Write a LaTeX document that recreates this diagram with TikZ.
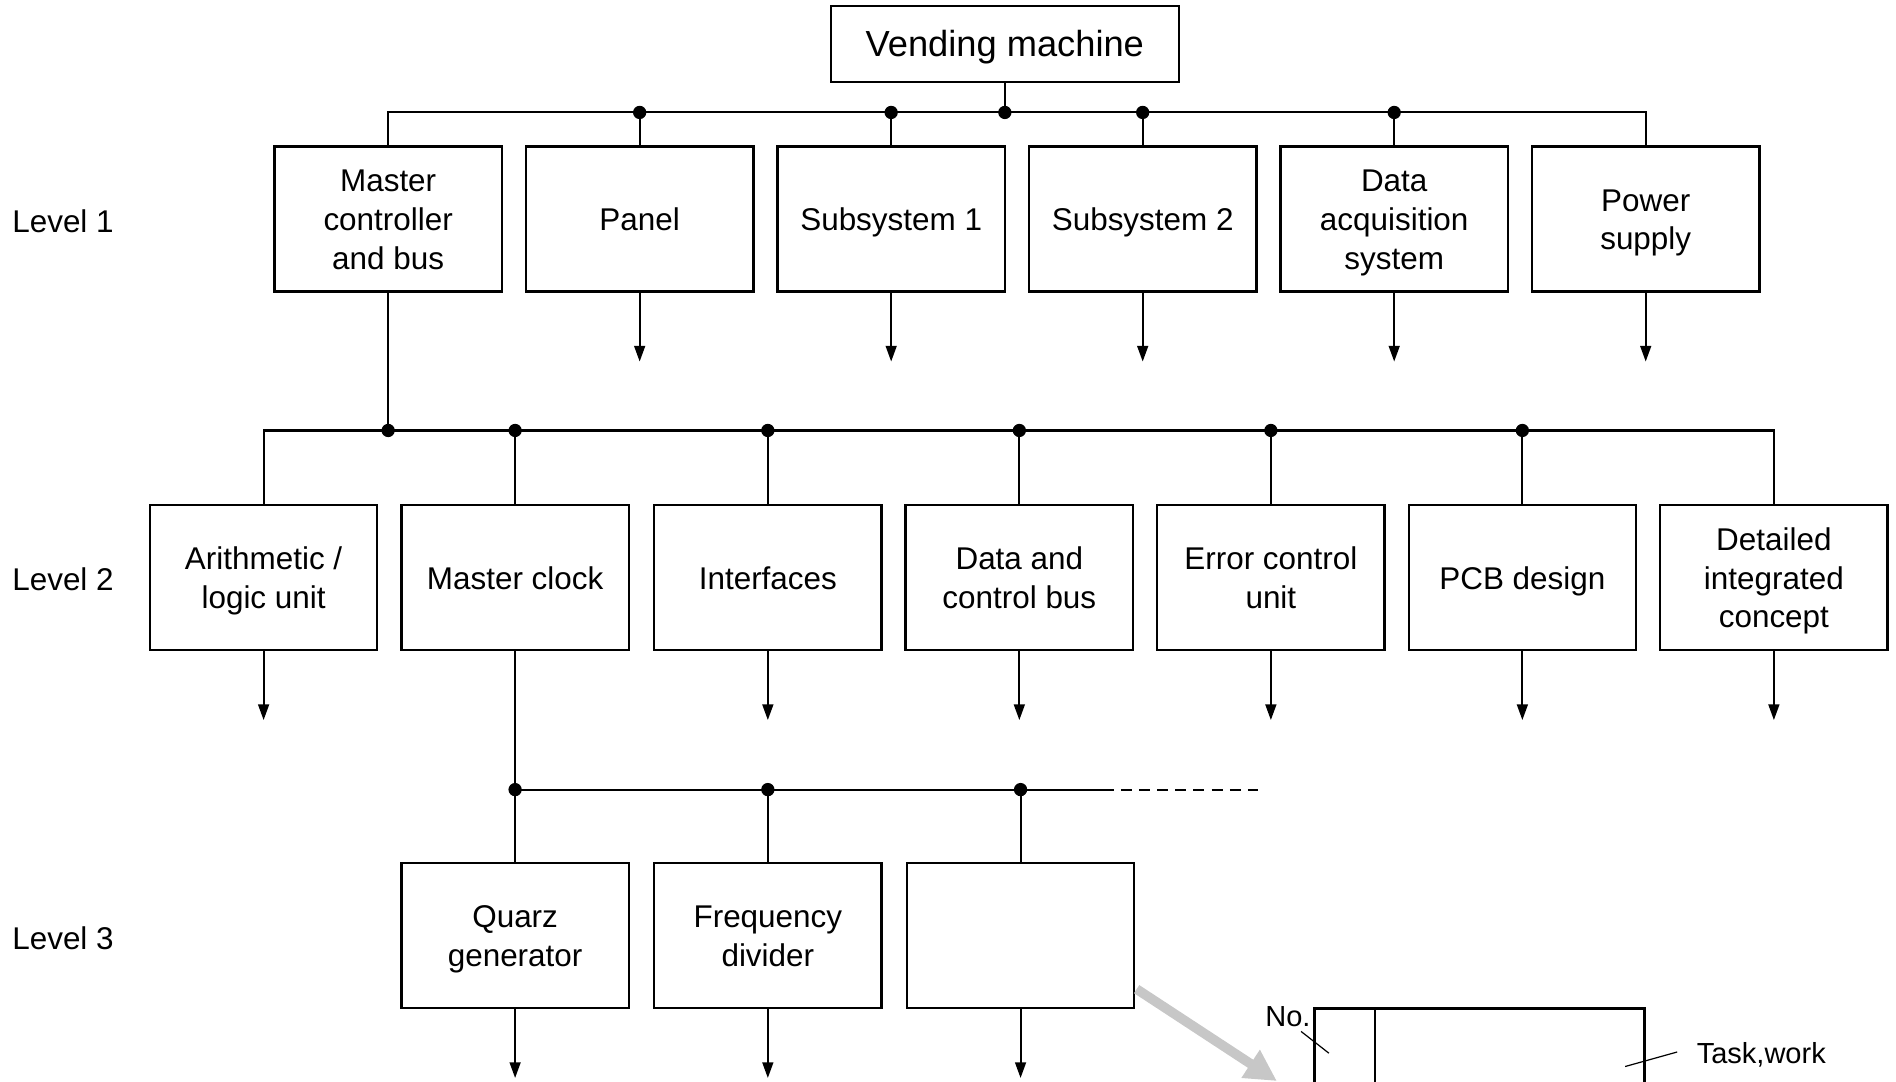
\documentclass[tikz,border=0pt]{standalone}
\usepackage{fontspec}
\setmainfont{Liberation Sans}
\usetikzlibrary{arrows.meta}
\newcommand\bxtop{\rule[-9.6pt]{0pt}{38.4pt}}
\begin{document}
\begin{tikzpicture}[x=1pt,y=-1pt,
 blk/.style={draw, line width=2pt, minimum width=188pt, minimum height=120pt, align=center, font=\fontsize{26}{32}\selectfont, inner sep=0pt,
   execute at end node=\strut},
 ttl/.style={draw, line width=2pt, minimum width=288pt, minimum height=63pt, align=center, font=\fontsize{30}{36}\selectfont, inner sep=0pt,
   execute at begin node={\rule[-0.3\baselineskip]{0pt}{\dimexpr\baselineskip+6pt\relax}},
   execute at end node=\strut},
 lvl/.style={font=\fontsize{26}{32}\selectfont, anchor=west, inner sep=0pt},
 small/.style={font=\fontsize{24}{29}\selectfont, inner sep=0pt},
 ln/.style={line width=1.7pt},
 arr/.style={line width=1.6pt, -{Triangle[length=13pt,width=9pt]}},
 dot/.style={circle, fill, inner sep=0pt, minimum size=11pt},
 gray arrow/.style={line width=8pt, draw=black!22, -{Triangle[length=26pt,width=26pt]}},
]
\useasboundingbox (0,0) rectangle (1568,894);
\clip (0,0) rectangle (1568,894);

% Title
\node[ttl] (vm) at (831,36.5) {Vending machine};

% Level labels
\node[lvl] (l1) at (10,183) {Level 1};
\node[lvl] (l2) at (10,479) {Level 2};
\node[lvl] (l3) at (10,776) {Level 3};

% Level 1
\node[blk] (mcb) at (321,181) {\bxtop Master\\controller\\and bus};
\node[blk] (pan) at (529,181) {\bxtop Panel};
\node[blk] (ss1) at (737,181) {\bxtop Subsystem 1};
\node[blk] (ss2) at (945,181) {\bxtop Subsystem 2};
\node[blk] (das) at (1153,181) {\bxtop Data\\acquisition\\system};
\node[blk] (pws) at (1361,181) {\bxtop Power\\supply};

\coordinate (b1) at (831,93);
\draw[ln] (vm.south) -- (b1);
\draw[ln] (mcb.north) |- (b1) -| (pws.north);
\foreach \n in {pan,ss1,ss2,das}{
  \draw[ln] (\n.north) -- (\n.north |- b1);
  \node[dot] at (\n.north |- b1) {};
  \draw[arr] (\n.south) -- ++(0,57);
}
\node[dot] at (b1) {};
\draw[arr] (pws.south) -- ++(0,57);

% Level 2
\node[blk] (alu) at (218,477.5) {\bxtop Arithmetic /\\logic unit};
\node[blk] (mck) at (426,477.5) {\bxtop Master clock};
\node[blk] (itf) at (635,477.5) {\bxtop Interfaces};
\node[blk] (dcb) at (843,477.5) {\bxtop Data and\\control bus};
\node[blk] (ecu) at (1051,477.5) {\bxtop Error control\\unit};
\node[blk] (pcb) at (1259,477.5) {\bxtop PCB design};
\node[blk] (dic) at (1467,477.5) {\bxtop Detailed\\integrated\\concept};

\coordinate (b2) at (843,356);
\draw[ln] (alu.north) |- (b2) -| (dic.north);
\draw[ln] (mcb.south) -- (mcb.south |- b2);
\node[dot] at (mcb.south |- b2) {};
\foreach \n in {mck,itf,dcb,ecu,pcb}{
  \draw[ln] (\n.north) -- (\n.north |- b2);
  \node[dot] at (\n.north |- b2) {};
}
\foreach \n in {alu,itf,dcb,ecu,pcb,dic}{
  \draw[arr] (\n.south) -- ++(0,57);
}

% Level 3
\node[blk] (qg) at (426,773.5) {\bxtop Quarz\\generator};
\node[blk] (fd) at (635,773.5) {\bxtop Frequency\\divider};
\node[blk] (bl) at (844,773.5) {};

\coordinate (b3) at (426,653);
\coordinate (b3e) at (912,653);
\coordinate (b3d) at (1040,653);
\draw[ln] (mck.south) -- (qg.north);
\draw[ln] (b3) -- (b3e);
\draw[ln, dash pattern=on 9pt off 6pt] (b3e) -- (b3d);
\node[dot] at (b3) {};
\foreach \n in {fd,bl}{
  \draw[ln] (\n.north) -- (\n.north |- b3);
  \node[dot] at (\n.north |- b3) {};
}
\foreach \n in {qg,fd,bl}{
  \draw[arr] (\n.south) -- ++(0,57);
}

% Gray pointer to detail form
\coordinate (ga) at (940,818);
\coordinate (gb) at (1056,894);
\draw[gray arrow] (ga) -- (gb);

% Detail form (partially visible)
\draw[line width=2pt] (1087,960) |- (1360,834) -- (1360,960);
\draw[line width=2pt] (1137,834) -- (1137,960);
\node[small, anchor=east] (no) at (1084,841) {No.};
\node[small, anchor=west] (tw) at (1403,872) {Task,work};
\coordinate (no1) at (1076,853);
\coordinate (no2) at (1099,871);
\coordinate (tw1) at (1387,870);
\coordinate (tw2) at (1344,882);
\draw[line width=1pt] (no1) -- (no2);
\draw[line width=1pt] (tw1) -- (tw2);
\end{tikzpicture}
\end{document}
